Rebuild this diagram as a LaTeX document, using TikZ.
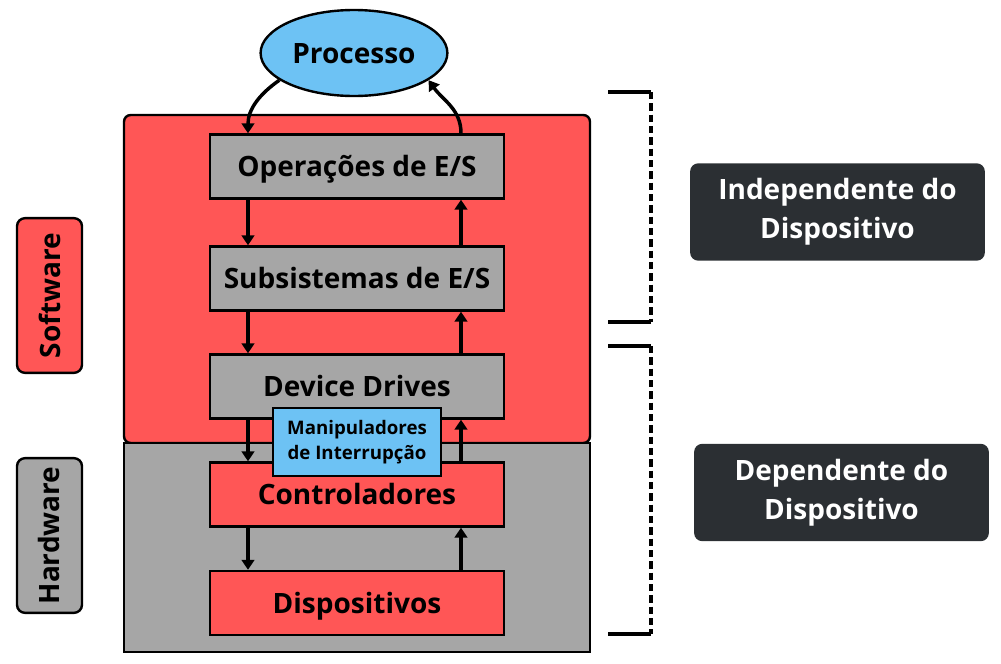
\documentclass[tikz,border=0pt]{standalone}
\usepackage{fontspec}
\setmainfont{Open Sans}
\usepackage{tikz}
\usetikzlibrary{positioning}
\usetikzlibrary{arrows.meta}
\usetikzlibrary{shapes.geometric}

\definecolor{swred}{HTML}{FF5656}
\definecolor{hwgray}{HTML}{A6A6A6}
\definecolor{irqblue}{HTML}{6DC2F4}
\definecolor{darkbox}{HTML}{2B2F33}

\begin{document}
\begin{tikzpicture}[x=0.75pt,y=-0.75pt,>={Triangle[width=9.5pt,length=7.5pt]},
                    flow/.style={->,line width=2.6pt},
                    layer/.style={draw,line width=1.8pt,minimum width=220.5pt,minimum height=48pt,
                                  inner sep=0pt,text height=15pt,text depth=0pt,
                                  font=\fontsize{21}{25}\selectfont\bfseries},
                    region/.style={draw,line width=1.8pt,minimum width=349.5pt,inner sep=0pt},
                    side label/.style={draw,line width=1.8pt,rounded corners=6pt,rotate=90,
                                  minimum width=116pt,minimum height=48.75pt,font=\fontsize{21}{25}\selectfont\bfseries},
                    scope box/.style={fill=darkbox,rounded corners=6pt,text=white,align=center,
                                  minimum width=221pt,minimum height=73pt,font=\fontsize{21}{29}\selectfont\bfseries},
                    brace/.style={line width=2.6pt}]
  \useasboundingbox (0,0) rectangle (1001,664);

  % areas software / hardware
  \node[region,fill=swred,minimum height=246pt,rounded corners=5pt] (swarea) at (357,279) {};
  \node[region,fill=hwgray,minimum height=156.75pt] (hwarea) at (357,547.5) {};

  % camadas
  \node[layer,fill=hwgray] (ops) at (357,166.5) {Operações de E/S};
  \node[layer,fill=hwgray] (sub) at (357,278.5) {Subsistemas de E/S};
  \node[layer,fill=hwgray] (drv) at (357,386.5) {Device Drives};
  \node[layer,fill=swred] (ctl) at (357,494.5) {Controladores};
  \node[layer,fill=swred] (dev) at (357,603) {Dispositivos};

  \node[ellipse,draw,line width=1.8pt,fill=irqblue,minimum width=135pt,minimum height=64.5pt,
        text height=15pt,text depth=0pt,font=\fontsize{21}{25}\selectfont\bfseries] (proc) at (354,53) {Processo};

  \coordinate (dn) at (248,0);
  \coordinate (up) at (461,0);

  \path[flow]
    (proc.200) edge[out=215,in=90] (ops.north -| dn)
    (ops.north -| up) edge[out=90,in=-55] (proc.340)
    (ops.south -| dn) edge (sub.north -| dn)
    (sub.north -| up) edge (ops.south -| up)
    (sub.south -| dn) edge (drv.north -| dn)
    (drv.north -| up) edge (sub.south -| up)
    (drv.south -| dn) edge (ctl.north -| dn)
    (ctl.north -| up) edge (drv.south -| up)
    (ctl.south -| dn) edge (dev.north -| dn)
    (dev.north -| up) edge (ctl.south -| up);

  \node[draw,line width=1.8pt,fill=irqblue,align=center,minimum width=126pt,minimum height=51pt,
        inner sep=0pt,font=\fontsize{14}{19}\selectfont\bfseries] (irq) at (357,442) {Manipuladores\\de Interrupção};

  % rotulos laterais
  \node[side label,fill=swred] (sw) at (49.5,295.5) {Software};
  \node[side label,fill=hwgray] (hw) at (49.5,535.5) {Hardware};

  % chaves
  \coordinate (a1) at (608,92);  \coordinate (a2) at (651,92);
  \coordinate (a3) at (651,322); \coordinate (a4) at (608,322);
  \coordinate (b1) at (608,346); \coordinate (b2) at (651,346);
  \coordinate (b3) at (651,634); \coordinate (b4) at (608,634);
  \draw[brace] (a1) -- (a2) (a3) -- (a4) (b1) -- (b2) (b3) -- (b4);
  \draw[brace,dash pattern=on 5.5pt off 3pt] (a2) -- (a3) (b2) -- (b3);

  \node[scope box] (indep) at (837.5,212) {Independente do\\Dispositivo};
  \node[scope box] (dep) at (841.5,492.5) {Dependente do\\Dispositivo};
\end{tikzpicture}
\end{document}
